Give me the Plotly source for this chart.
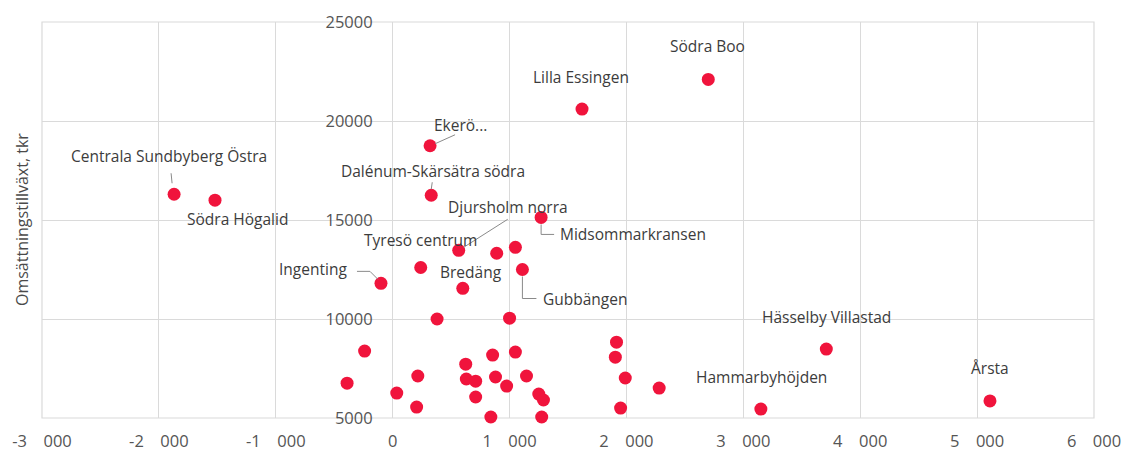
import plotly.graph_objects as go

# ---- data ----
x_vals = [-1870, -1520, 320, 330, 1620, 2700, 565, 890, 1050, 1270, 1110, 240, -100, 600,
          380, 1000, -240, 855, 1050, -390, 215, 35, 205, 625, 630, 710, 880, 975, 710, 840,
          1145, 1250, 1290, 1275, 1915, 1905, 1990, 1950, 2280, 3150, 3710, 5110]
y_vals = [16300, 16000, 18750, 16250, 20600, 22100, 13470, 13320, 13620, 15130, 12500, 12600, 11800, 11550,
          10000, 10040, 8380, 8180, 8330, 6760, 7120, 6260, 5550, 7720, 6970, 6860, 7070, 6610, 6060, 5050,
          7120, 6210, 5910, 5050, 8830, 8070, 7020, 5500, 6510, 5450, 8480, 5860]
labels = ["Centrala Sundbyberg Östra", "Södra Högalid", "Ekerö...", "Dalénum-Skärsätra södra",
          "Lilla Essingen", "Södra Boo", "Djursholm norra", "", "", "Midsommarkransen", "Gubbängen",
          "Tyresö centrum", "Ingenting", "Bredäng",
          "", "", "", "", "", "", "", "", "", "", "", "", "", "", "", "",
          "", "", "", "", "", "", "", "", "", "Hammarbyhöjden", "Hässelby Villastad", "Årsta"]

x_tickvals = [-3000, -2000, -1000, 0, 1000, 2000, 3000, 4000, 5000, 6000]
x_ticktext = ["-3\u2003000", "-2\u2003000", "-1\u2003000", "0", "1\u2003000", "2\u2003000",
              "3\u2003000", "4\u2003000", "5\u2003000", "6\u2003000"]
y_tickvals = [5000, 10000, 15000, 20000, 25000]
y_title = "Omsättningstillväxt, tkr"

# label placement (pixel offsets from point) and leader paths (pixel, y up)
label_style = {
    "Centrala Sundbyberg Östra": (-5, 38, "M -3 21 L -2 11"),
    "Södra Högalid": (22, -19, None),
    "Ekerö...": (30, 21, "M 5 2 L 25 11"),
    "Dalénum-Skärsätra södra": (2, 24, "M 1 13 L 0 6"),
    "Lilla Essingen": (-1, 32, None),
    "Södra Boo": (-1, 33, None),
    "Djursholm norra": (49, 43, "M 49 31 L 5 3"),
    "Tyresö centrum": (0, 28, None),
    "Ingenting": (-68, 14, "M -24 12 L -11 12 L -3 4"),
    "Bredäng": (8, 16, None),
    "Midsommarkransen": (92, -17, "M 0 -7 L 0 -17 L 13 -17"),
    "Gubbängen": (63, -29, "M 0 -7 L 0 -29 L 14 -29"),
    "Hässelby Villastad": (0, 32, None),
    "Hammarbyhöjden": (1, 32, None),
    "Årsta": (0, 33, None),
}

FONT = "Open Sans"
GRID = "#dadada"

fig = go.Figure()
fig.add_trace(go.Scatter(
    x=x_vals, y=y_vals, mode="markers",
    marker=dict(color="#f0143c", size=13, line=dict(width=0)),
    cliponaxis=False, hoverinfo="text", text=labels, showlegend=False,
))

annotations = []
shapes = []
for xv, yv, lab in zip(x_vals, y_vals, labels):
    if not lab:
        continue
    dx, dy, path = label_style[lab]
    annotations.append(dict(x=xv, y=yv, xref="x", yref="y", text=lab, showarrow=False,
                            xshift=dx, yshift=dy, font=dict(family=FONT, size=15.5, color="#3c3c3c")))
    if path:
        shapes.append(dict(type="path", xref="x", yref="y", xsizemode="pixel", ysizemode="pixel",
                           xanchor=xv, yanchor=yv, path=path,
                           line=dict(color="#8a8a8a", width=1)))

shapes.append(dict(type="rect", xref="paper", yref="paper", x0=0, y0=0, x1=1, y1=1,
                   line=dict(color=GRID, width=1.2), layer="below"))

annotations.append(dict(x=-0.019, y=0.5, xref="paper", yref="paper", text=y_title, textangle=-90,
                        xanchor="center", yanchor="middle",
                        showarrow=False, font=dict(family=FONT, size=16, color="#4a4a4a")))

fig.update_layout(
    width=1126, height=461,
    margin=dict(l=42, r=32, t=22, b=43, autoexpand=False),
    paper_bgcolor="white", plot_bgcolor="white",
    font=dict(family=FONT, size=15, color="#555555"),
    xaxis=dict(range=[-3000, 6000], tickvals=x_tickvals, ticktext=x_ticktext,
               showgrid=True, gridcolor=GRID, gridwidth=1, zeroline=False, automargin=False,
               showline=False, ticks="", ticklabelstandoff=11,
               tickfont=dict(family=FONT, size=16.5, color="#555555")),
    yaxis=dict(range=[5000, 25000], tickvals=y_tickvals, ticktext=[str(v) for v in y_tickvals],
               anchor="free", position=1/3, showgrid=True, gridcolor=GRID, gridwidth=1,
               zeroline=False, showline=False, ticks="", ticklabelstandoff=20, automargin=False,
               tickfont=dict(family=FONT, size=16.5, color="#555555")),
    annotations=annotations,
    shapes=shapes,
)

fig.write_html("out.html", config={"displayModeBar": False},
               post_script="document.body.style.margin='0';")
